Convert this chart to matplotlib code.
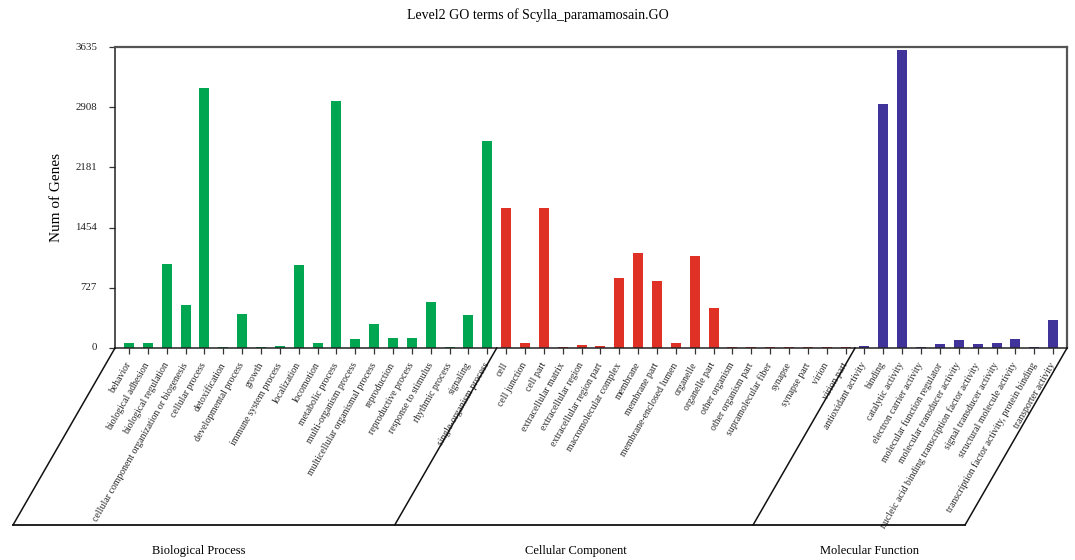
import numpy as np
import matplotlib
matplotlib.use("Agg")
import matplotlib.pyplot as plt
from matplotlib.transforms import ScaledTranslation

plt.rcParams['font.family'] = ['Liberation Serif', 'DejaVu Serif']

# GO level-2 terms and gene counts per ontology
bp_terms = ["behavior", "biological adhesion", "biological regulation",
            "cellular component organization or biogenesis", "cellular process",
            "detoxification", "developmental process", "growth",
            "immune system process", "localization", "locomotion",
            "metabolic process", "multi-organism process",
            "multicellular organismal process", "reproduction",
            "reproductive process", "response to stimulus", "rhythmic process",
            "signaling", "single-organism process"]
bp_counts = [60, 60, 1016, 520, 3146, 12, 411, 12, 24, 1004, 60, 2989,
             109, 290, 121, 121, 557, 12, 400, 2504]

cc_terms = ["cell", "cell junction", "cell part", "extracellular matrix",
            "extracellular region", "extracellular region part",
            "macromolecular complex", "membrane", "membrane part",
            "membrane-enclosed lumen", "organelle", "organelle part",
            "other organism", "other organism part", "supramolecular fiber",
            "synapse", "synapse part", "virion", "virion part"]
cc_counts = [1692, 57, 1692, 12, 32, 20, 843, 1150, 811, 57, 1109, 480,
             12, 12, 12, 12, 12, 12, 12]

mf_terms = ["antioxidant activity", "binding", "catalytic activity",
            "electron carrier activity", "molecular function regulator",
            "molecular transducer activity",
            "nucleic acid binding transcription factor activity",
            "signal transducer activity", "structural molecule activity",
            "transcription factor activity, protein binding",
            "transporter activity"]
mf_counts = [20, 2952, 3605, 8, 48, 97, 48, 60, 109, 8, 339]

groups = ["Biological Process", "Cellular Component", "Molecular Function"]
group_colors = ["#00A650", "#E03126", "#40349A"]
y_max = 3635

terms = bp_terms + cc_terms + mf_terms
counts = bp_counts + cc_counts + mf_counts
colors = ([group_colors[0]] * len(bp_terms) + [group_colors[1]] * len(cc_terms)
          + [group_colors[2]] * len(mf_terms))
x = np.arange(len(terms))

fig = plt.figure(figsize=(10.75, 5.6), dpi=100)
ax = fig.add_axes([0.107, 0.3786, 0.8856, 0.5374])

ax.bar(x, counts, width=0.53, color=colors)
ax.set_xlim(-0.74, len(terms) - 0.26)
ax.set_ylim(0, y_max)
yt = np.linspace(0, y_max, 6)
ax.set_yticks(yt)
ax.set_yticklabels([str(int(round(v))) for v in yt], fontsize=7.8, va='center')
# nudge the count labels up a little
for lbl in ax.get_yticklabels():
    lbl.set_transform(lbl.get_transform() + ScaledTranslation(0, 2 / 100, fig.dpi_scale_trans))
ax.set_xticks(x)
ax.set_xticklabels(terms, rotation=60, ha='right', va='center',
                   rotation_mode='anchor', fontsize=7)
ax.tick_params(axis='x', length=4, width=0.9, pad=7, colors='#333333',
               labelcolor='#2a2a2a')
ax.tick_params(axis='y', length=4, width=0.9, pad=9, colors='#333333',
               labelcolor='#222222')
ax.set_ylabel("Num of Genes", fontsize=11, labelpad=9)

for side in ['left', 'bottom']:
    ax.spines[side].set_color('#222222')
    ax.spines[side].set_linewidth(1.1)
for side in ['top', 'right']:
    ax.spines[side].set_color('#555555')
    ax.spines[side].set_linewidth(1.6)

fig.suptitle("Level2 GO terms of Scylla_paramamosain.GO", fontsize=10, y=0.985)

# slanted panel under the axis that holds the category labels
fig.canvas.draw()
inv = fig.transFigure.inverted()
drop = (-102, -177)
n_bp, n_cc = len(bp_terms), len(cc_terms)
edges = [ax.get_xlim()[0], n_bp - 0.5, n_bp + n_cc - 0.5, ax.get_xlim()[1]]
bottoms = []
for xe in edges:
    top = ax.transData.transform((xe, 0))
    bot = top + np.array(drop)
    p0, p1 = inv.transform(top), inv.transform(bot)
    fig.add_artist(plt.Line2D([p0[0], p1[0]], [p0[1], p1[1]],
                              color='#111111', lw=1.1))
    bottoms.append(p1)
fig.add_artist(plt.Line2D([bottoms[0][0], bottoms[-1][0]],
                          [bottoms[0][1], bottoms[-1][1]],
                          color='#111111', lw=1.3))

group_x = [199 / 1075, 576 / 1075, 869 / 1075]
for name, gx in zip(groups, group_x):
    fig.text(gx, 1 - 551 / 560, name, ha='center', va='center', fontsize=9)

fig.savefig("out.png", dpi=100)
